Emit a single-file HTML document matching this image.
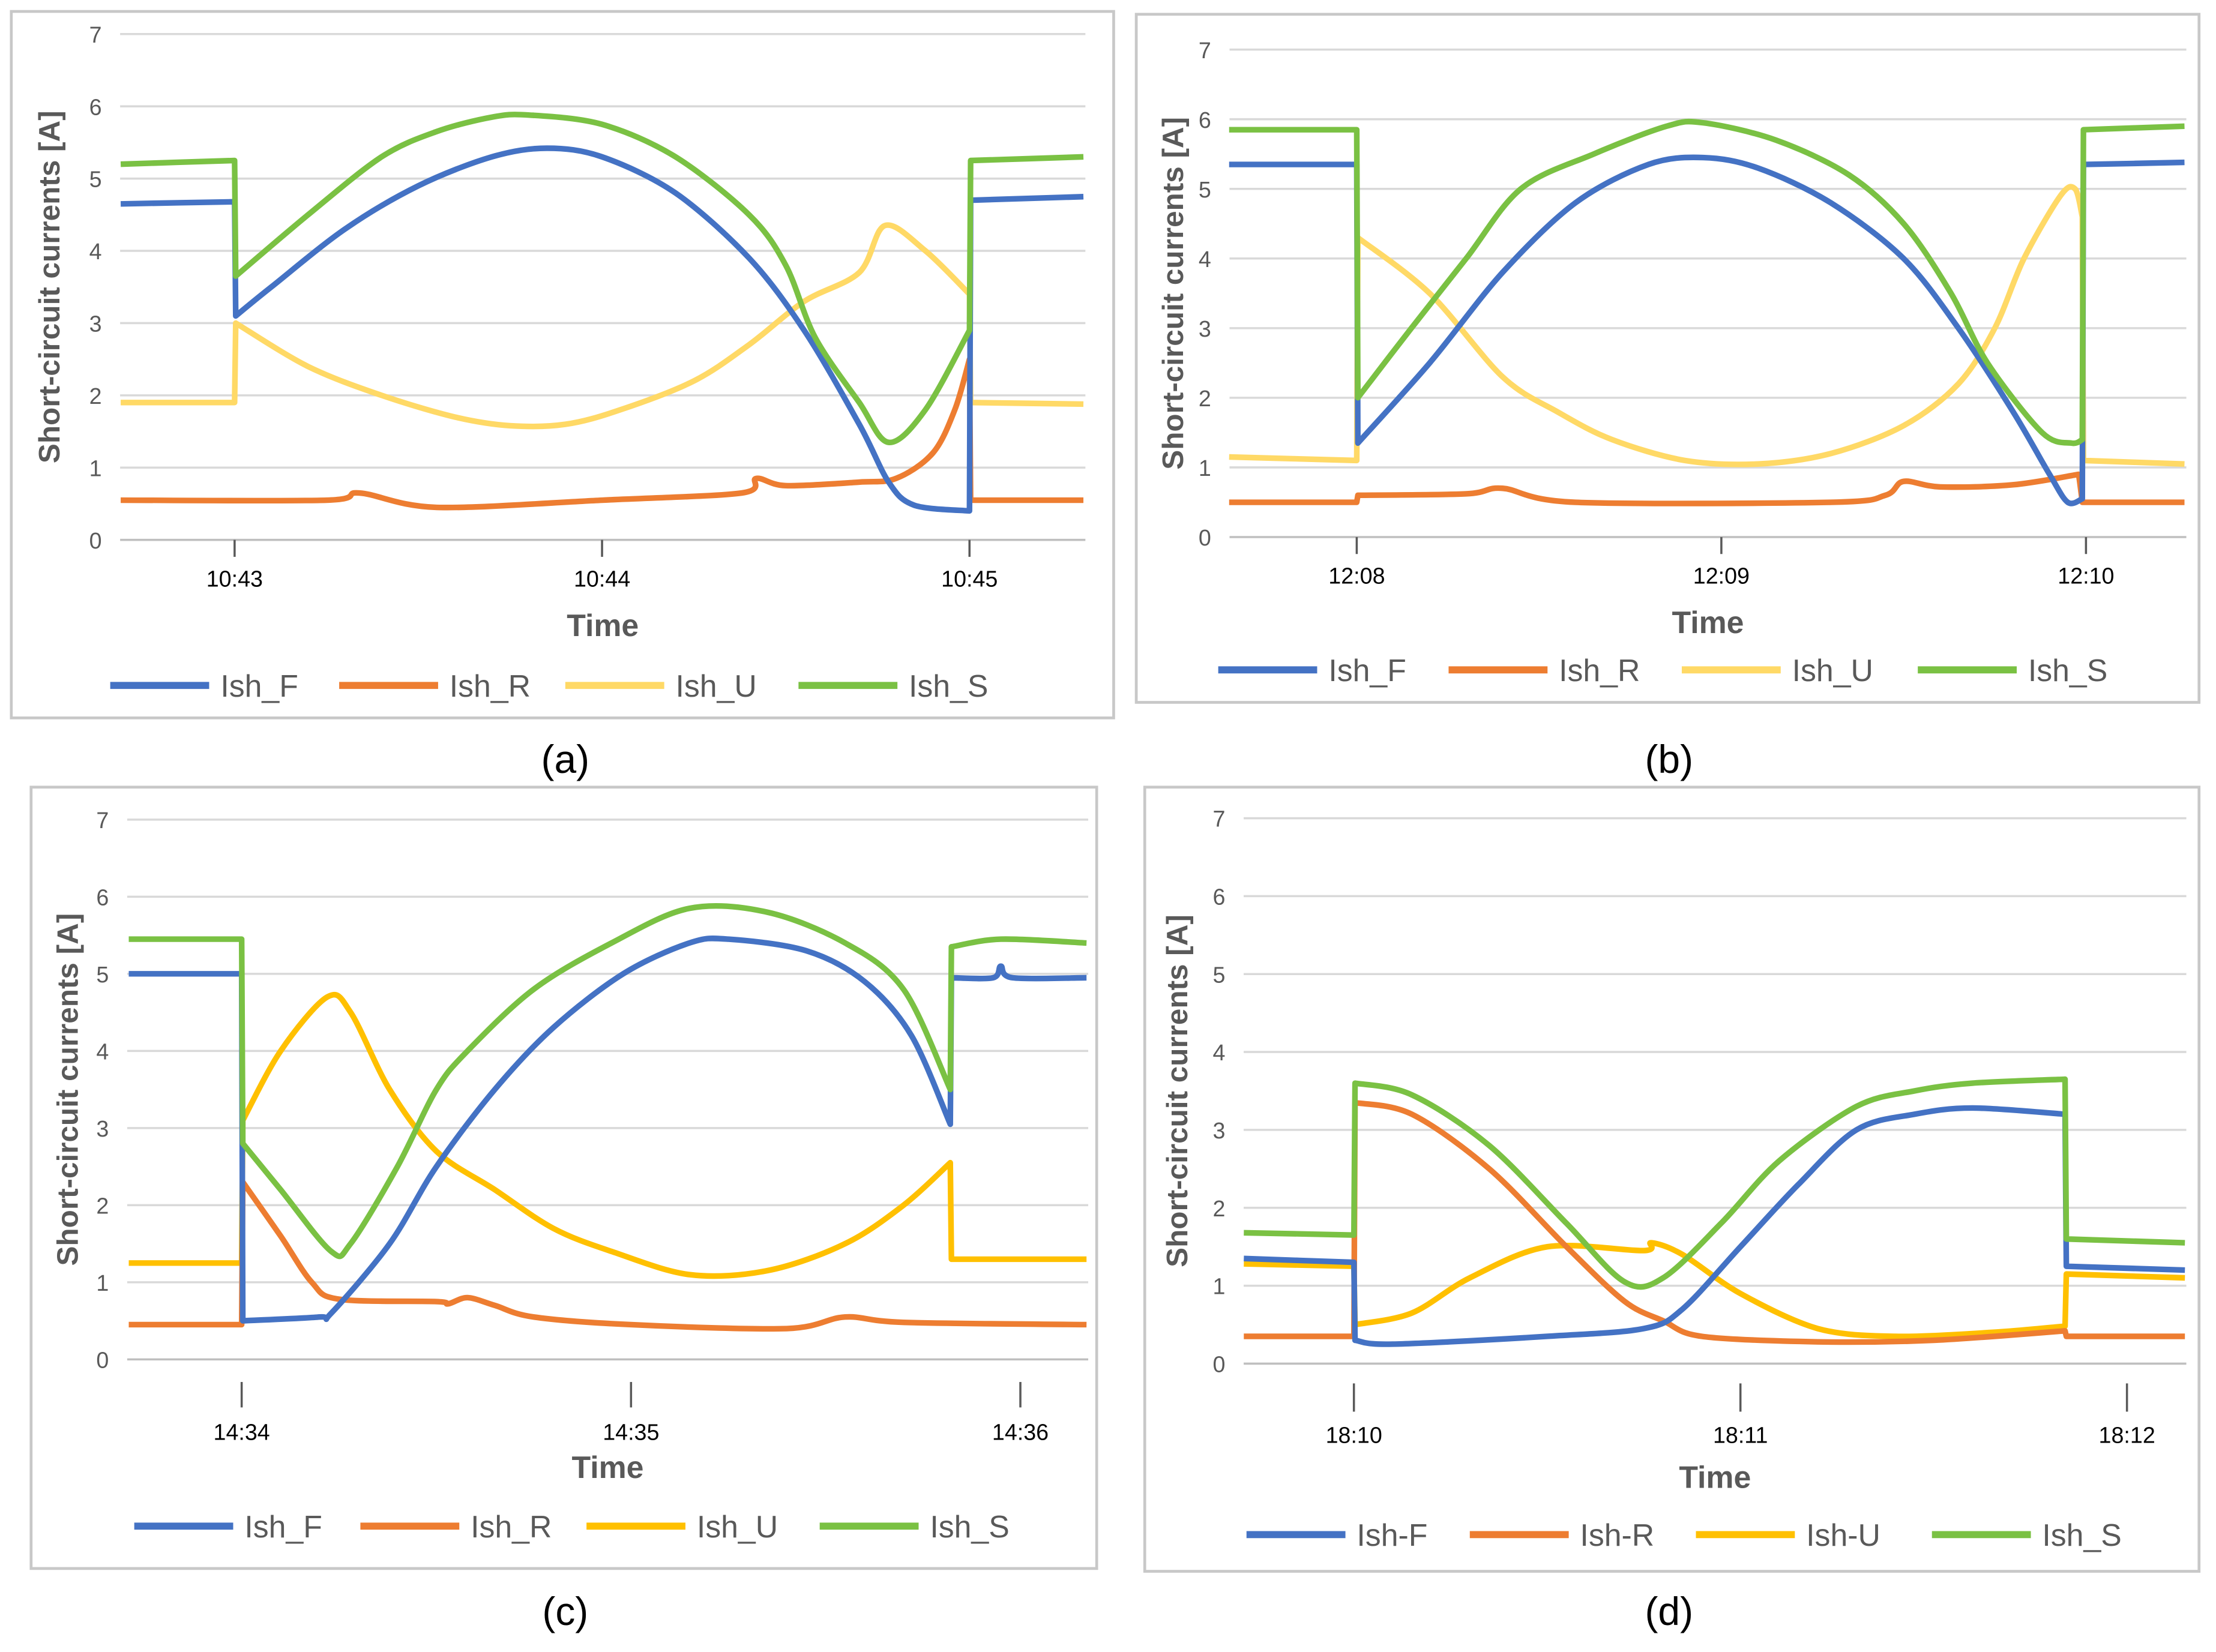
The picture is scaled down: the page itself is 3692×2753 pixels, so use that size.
<!DOCTYPE html>
<html><head><meta charset="utf-8"><style>
html,body{margin:0;padding:0;background:#fff}
svg{display:block}
text{font-family:"Liberation Sans",sans-serif}
</style></head><body>
<svg id="fig" width="3692" height="2753" viewBox="0 0 1568 1169" xmlns="http://www.w3.org/2000/svg"></svg>
<script>
// Panel (a) data: time in minutes from first tick, value in A
const aTicks = ["10:43","10:44","10:45"];
const aF = [[-0.31,4.65],[0,4.68],[0.003,3.1],[0.1,3.5],[0.3,4.3],[0.5,4.9],[0.7,5.3],[0.85,5.42],[1.0,5.3],[1.2,4.8],[1.4,3.9],[1.55,2.9],[1.7,1.6],[1.78,0.8],[1.85,0.48],[2.0,0.4],[2.003,4.7],[2.31,4.75]];
const aR = [[-0.31,0.55],[0.25,0.55],[0.34,0.65],[0.55,0.45],[1.0,0.55],[1.38,0.65],[1.42,0.85],[1.5,0.75],[1.7,0.8],[1.8,0.85],[1.9,1.2],[1.96,1.8],[2.0,2.5],[2.003,0.55],[2.31,0.55]];
const aU = [[-0.31,1.9],[0,1.9],[0.003,3.0],[0.2,2.4],[0.4,2.0],[0.6,1.7],[0.75,1.58],[0.9,1.6],[1.05,1.8],[1.25,2.2],[1.4,2.7],[1.55,3.3],[1.7,3.7],[1.77,4.35],[1.88,4.0],[2.0,3.4],[2.003,1.9],[2.31,1.88]];
const aS = [[-0.31,5.2],[0,5.25],[0.003,3.65],[0.2,4.5],[0.4,5.3],[0.55,5.65],[0.7,5.85],[0.8,5.88],[1.0,5.75],[1.2,5.3],[1.4,4.5],[1.5,3.8],[1.58,2.8],[1.7,1.9],[1.78,1.35],[1.88,1.8],[2.0,2.9],[2.003,5.25],[2.31,5.3]];
// Panel (b)
const bTicks = ["12:08","12:09","12:10"];
const bF = [[-0.35,5.35],[0,5.35],[0.003,1.35],[0.2,2.5],[0.4,3.8],[0.6,4.8],[0.8,5.35],[0.95,5.45],[1.1,5.3],[1.3,4.8],[1.5,4.0],[1.65,3.0],[1.8,1.8],[1.9,0.9],[1.95,0.5],[1.99,0.55],[1.993,5.35],[2.27,5.38]];
const bR = [[-0.35,0.5],[0,0.5],[0.003,0.6],[0.3,0.62],[0.4,0.7],[0.6,0.5],[1.3,0.5],[1.45,0.6],[1.5,0.8],[1.6,0.72],[1.8,0.75],[1.98,0.9],[1.99,0.5],[2.27,0.5]];
const bU = [[-0.35,1.15],[0,1.1],[0.003,4.3],[0.2,3.5],[0.4,2.3],[0.55,1.8],[0.7,1.4],[0.9,1.1],[1.1,1.05],[1.3,1.2],[1.5,1.6],[1.65,2.2],[1.75,3.0],[1.83,4.0],[1.93,4.9],[1.97,5.0],[1.99,4.6],[1.993,1.1],[2.27,1.05]];
const bS = [[-0.35,5.85],[0,5.85],[0.003,2.0],[0.15,3.0],[0.3,4.0],[0.45,5.0],[0.65,5.5],[0.85,5.9],[0.95,5.95],[1.15,5.7],[1.35,5.2],[1.5,4.5],[1.63,3.5],[1.73,2.5],[1.88,1.5],[1.96,1.35],[1.99,1.4],[1.993,5.85],[2.27,5.9]];
// Panel (c)
const cTicks = ["14:34","14:35","14:36"];
const cF = [[-0.29,5.0],[0,5.0],[0.003,0.5],[0.2,0.55],[0.23,0.6],[0.38,1.5],[0.5,2.5],[0.65,3.5],[0.8,4.3],[0.98,5.0],[1.15,5.4],[1.25,5.45],[1.45,5.3],[1.6,4.9],[1.72,4.2],[1.82,3.05],[1.823,4.95],[1.93,4.95],[1.95,5.1],[1.98,4.95],[2.17,4.95]];
const cR = [[-0.29,0.45],[0,0.45],[0.003,2.3],[0.1,1.6],[0.18,1.0],[0.25,0.78],[0.5,0.75],[0.53,0.72],[0.58,0.8],[0.65,0.7],[0.75,0.55],[1.0,0.45],[1.4,0.4],[1.55,0.55],[1.7,0.48],[2.17,0.45]];
const cU = [[-0.29,1.25],[0,1.25],[0.003,3.1],[0.1,4.0],[0.22,4.7],[0.28,4.5],[0.38,3.5],[0.5,2.7],[0.65,2.2],[0.8,1.7],[0.95,1.4],[1.15,1.1],[1.35,1.15],[1.55,1.5],[1.7,2.0],[1.82,2.55],[1.823,1.3],[2.17,1.3]];
const cS = [[-0.29,5.45],[0,5.45],[0.003,2.8],[0.1,2.2],[0.23,1.4],[0.28,1.5],[0.4,2.5],[0.5,3.5],[0.58,4.0],[0.75,4.8],[0.95,5.4],[1.15,5.85],[1.35,5.8],[1.55,5.4],[1.7,4.8],[1.82,3.5],[1.823,5.35],[1.95,5.45],[2.17,5.4]];
// Panel (d)
const dTicks = ["18:10","18:11","18:12"];
const dF = [[-0.285,1.35],[0,1.3],[0.003,0.3],[0.1,0.25],[0.5,0.35],[0.75,0.45],[0.85,0.7],[1.0,1.5],[1.15,2.3],[1.3,3.0],[1.45,3.2],[1.6,3.28],[1.84,3.2],[1.843,1.25],[2.15,1.2]];
const dR = [[-0.285,0.35],[0,0.35],[0.003,3.35],[0.15,3.2],[0.35,2.5],[0.55,1.5],[0.7,0.8],[0.8,0.55],[0.9,0.35],[1.2,0.28],[1.5,0.3],[1.84,0.42],[1.843,0.35],[2.15,0.35]];
const dU = [[-0.285,1.28],[0,1.25],[0.003,0.5],[0.15,0.65],[0.3,1.1],[0.5,1.5],[0.75,1.45],[0.77,1.55],[0.85,1.4],[1.0,0.9],[1.2,0.45],[1.4,0.35],[1.65,0.4],[1.84,0.48],[1.843,1.15],[2.15,1.1]];
const dS = [[-0.285,1.68],[0,1.65],[0.003,3.6],[0.15,3.45],[0.35,2.8],[0.55,1.8],[0.7,1.05],[0.8,1.1],[0.95,1.8],[1.1,2.6],[1.3,3.3],[1.45,3.5],[1.6,3.6],[1.84,3.65],[1.843,1.6],[2.15,1.55]];

const NS="http://www.w3.org/2000/svg";
const svg=document.getElementById('fig');
function mk(tag,attrs,parent){const e=document.createElementNS(NS,tag);for(const k in attrs)e.setAttribute(k,attrs[k]);(parent||svg).appendChild(e);return e;}

function smoothPath(pts){
 let d='', seg=[pts[0]];
 const segs=[];
 for(let i=1;i<pts.length;i++){
  if(pts[i][0]-pts[i-1][0]<3){segs.push(seg);seg=[pts[i-1],pts[i]];segs.push(seg);seg=[pts[i]];}
  else seg.push(pts[i]);
 }
 segs.push(seg);
 segs.forEach(s=>{
  if(s.length<2)return;
  d+=(d?'L':'M')+s[0][0].toFixed(1)+' '+s[0][1].toFixed(1);
  for(let i=0;i<s.length-1;i++){
   const p0=s[Math.max(0,i-1)],p1=s[i],p2=s[i+1],p3=s[Math.min(s.length-1,i+2)];
   const t=0.16;
   const c1=[p1[0]+(p2[0]-p0[0])*t,p1[1]+(p2[1]-p0[1])*t];
   const c2=[p2[0]-(p3[0]-p1[0])*t,p2[1]-(p3[1]-p1[1])*t];
   d+=' C'+c1[0].toFixed(1)+' '+c1[1].toFixed(1)+' '+c2[0].toFixed(1)+' '+c2[1].toFixed(1)+' '+p2[0].toFixed(1)+' '+p2[1].toFixed(1);
  }
 });
 return d;
}

const panels=[
 {id:'a',box:[8,8,780,500],x0:85,x1:768,t0:166,t2:686,y0:382,y7:24,tk:[0,12,33],timeY:442,legY:485,
  leg:[78,240,400,565],names:["Ish_F","Ish_R","Ish_U","Ish_S"],ytx:35,label:[400,537],
  ticks:aTicks,series:[aF,aR,aU,aS],ucol:"#FFD966"},
 {id:'b',box:[804,10,752,487],x0:870,x1:1547,t0:960,t2:1476,y0:380,y7:35,tk:[0,12,33],timeY:440,legY:474,
  leg:[862,1025,1190,1357],names:["Ish_F","Ish_R","Ish_U","Ish_S"],ytx:830,label:[1181,537],
  ticks:bTicks,series:[bF,bR,bU,bS],ucol:"#FFD966"},
 {id:'c',box:[22,557,754,553],x0:90,x1:770,t0:171,t2:722,y0:962,y7:580,tk:[16,34,57],timeY:1038,legY:1080,
  leg:[95,255,415,580],names:["Ish_F","Ish_R","Ish_U","Ish_S"],ytx:48,label:[400,1140],
  ticks:cTicks,series:[cF,cR,cU,cS],ucol:"#FFC000"},
 {id:'d',box:[810,557,746,555],x0:880,x1:1547,t0:958,t2:1505,y0:965,y7:579,tk:[14,34,56],timeY:1045,legY:1086,
  leg:[882,1040,1200,1367],names:["Ish-F","Ish-R","Ish-U","Ish_S"],ytx:833,label:[1181,1140],
  ticks:dTicks,series:[dF,dR,dU,dS],ucol:"#FFC000"}
];

panels.forEach(p=>{
 const g=mk('g',{});
 
 
 const xs=m=>p.t0+(p.t2-p.t0)/2*m;
 const ys=v=>p.y0+(p.y7-p.y0)*v/7;
 const box=mk('rect',{x:p.box[0],y:p.box[1],width:p.box[2],height:p.box[3],fill:'#fff',stroke:'#c8c8c8','stroke-width':2},g);
 
 
 for(let v=0;v<=7;v++){
  const gl=mk('line',{x1:p.x0,x2:p.x1,y1:ys(v),y2:ys(v),stroke:v===0?'#bfbfbf':'#d9d9d9','stroke-width':1.5},g);
  
  
  const tl=mk('text',{x:p.x0-13,y:ys(v)+6,'text-anchor':'end','font-size':16,fill:'#595959'},g);
  tl.textContent=v;
  
  
 }
 p.ticks.forEach((t,i)=>{
  const x=xs(i);
  const tm=mk('line',{x1:x,x2:x,y1:p.y0+p.tk[0],y2:p.y0+p.tk[1],stroke:'#595959','stroke-width':1.5},g);
  
  
  const tl=mk('text',{x:x,y:p.y0+p.tk[2],'text-anchor':'middle','font-size':16,fill:'#000'},g);
  tl.textContent=t;
  
  
 });
 const tt=mk('text',{x:(p.x0+p.x1)/2,y:p.timeY+8,'text-anchor':'middle','font-size':22,'font-weight':'bold',fill:'#595959'},g);
 tt.textContent='Time';
 
 
 const cy=(p.y0+p.y7)/2;
 const yt=mk('text',{x:p.ytx,y:cy,'text-anchor':'middle','font-size':21,'font-weight':'bold',fill:'#595959',transform:`rotate(-90 ${p.ytx} ${cy})`,dy:7},g);
 yt.textContent='Short-circuit currents [A]';
 
 
 const cols=['#4472C4','#ED7D31',p.ucol,'#7AC143'];
 const order=[2,1,0,3];
 order.forEach(si=>{
  const pts=p.series[si].map(pt=>[xs(pt[0]),ys(pt[1])]);
  const pa=mk('path',{d:smoothPath(pts),fill:'none',stroke:cols[si],'stroke-width':4,'stroke-linejoin':'round'},g);
  
  
 });
 p.leg.forEach((lx,i)=>{
  const ll=mk('line',{x1:lx,x2:lx+70,y1:p.legY,y2:p.legY,stroke:cols[i],'stroke-width':5},g);
  
  
  const lt=mk('text',{x:lx+78,y:p.legY+8,'font-size':22,fill:'#595959'},g);
  lt.textContent=p.names[i];
  
  
 });
 const lb=mk('text',{x:p.label[0],y:p.label[1]+10,'text-anchor':'middle','font-size':28,'font-family':'Liberation Serif, serif',fill:'#000'},g);
 lb.textContent='('+p.id+')';
 
 
});
</script>
</body></html>
